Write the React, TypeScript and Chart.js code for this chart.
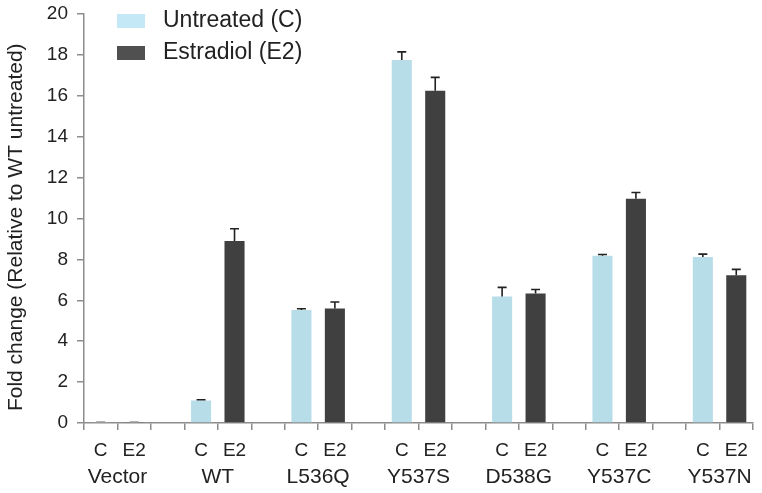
import React, { useEffect, useRef } from "react";
import { Chart, registerables } from "chart.js";

Chart.register(...registerables);

const groups = ["Vector", "WT", "L536Q", "Y537S", "D538G", "Y537C", "Y537N"];
const conditions = ["C", "E2"];
const untreated = [0.03, 1.1, 5.52, 17.75, 6.18, 8.18, 8.12];
const untreatedErr = [0.02, 0.04, 0.07, 0.4, 0.45, 0.06, 0.14];
const estradiol = [0.03, 8.9, 5.6, 16.25, 6.33, 10.97, 7.23];
const estradiolErr = [0.02, 0.6, 0.32, 0.65, 0.2, 0.3, 0.28];
const legendLabels = ["Untreated (C)", "Estradiol (E2)"];
const yTitle = "Fold change (Relative to WT untreated)";

const FONT = "'Liberation Sans', Arial, Helvetica, sans-serif";
const LIGHT = "#b6dde8";
const DARK = "#404040";
const AXIS = "#8c8c8c";
const TEXT = "#222222";

// build the slot layout: C, E2, gap, C, E2, gap ... C, E2
const slotLabels: string[] = [];
const slotC: (number | null)[] = [];
const slotE: (number | null)[] = [];
const slotCErr: (number | null)[] = [];
const slotEErr: (number | null)[] = [];
const groupCenters: number[] = [];
groups.forEach((g, i) => {
  const base = slotLabels.length;
  groupCenters.push(base + 0.5);
  slotLabels.push(conditions[0]);
  slotC.push(untreated[i]);
  slotE.push(null);
  slotCErr.push(untreatedErr[i]);
  slotEErr.push(null);
  slotLabels.push(conditions[1]);
  slotC.push(null);
  slotE.push(estradiol[i]);
  slotCErr.push(null);
  slotEErr.push(estradiolErr[i]);
  if (i < groups.length - 1) {
    slotLabels.push("");
    slotC.push(null);
    slotE.push(null);
    slotCErr.push(null);
    slotEErr.push(null);
  }
});

const errorBarPlugin = {
  id: "errorBars",
  afterDatasetsDraw(chart: any) {
    const ctx = chart.ctx;
    const y = chart.scales.y;
    const errs = [slotCErr, slotEErr];
    ctx.save();
    chart.data.datasets.forEach((ds: any, di: number) => {
      const meta = chart.getDatasetMeta(di);
      meta.data.forEach((bar: any, i: number) => {
        const v = ds.data[i];
        const e = errs[di][i];
        if (v == null || e == null) return;
        const base = y.getPixelForValue(v);
        const top = y.getPixelForValue(v + e);
        ctx.strokeStyle = v < 0.5 ? "#999999" : "#222222";
        ctx.lineWidth = 1.6;
        ctx.beginPath();
        ctx.moveTo(bar.x, base);
        ctx.lineTo(bar.x, top);
        ctx.moveTo(bar.x - 4.5, top);
        ctx.lineTo(bar.x + 4.5, top);
        ctx.stroke();
      });
    });
    ctx.restore();
  },
};

const legendPlugin = {
  id: "customLegend",
  afterDraw(chart: any) {
    const ctx = chart.ctx;
    const colors = ["#c4e8f6", "#505050"];
    const x0 = chart.chartArea.left + 33;
    const rowY = [21, 53];
    ctx.save();
    ctx.font = `23px ${FONT}`;
    ctx.textBaseline = "middle";
    ctx.textAlign = "left";
    legendLabels.forEach((label, i) => {
      ctx.fillStyle = colors[i];
      ctx.fillRect(x0, rowY[i] - 7, 28, 14);
      ctx.fillStyle = TEXT;
      ctx.fillText(label, x0 + 46, rowY[i]);
    });
    ctx.restore();
  },
};

export default function App() {
  const ref = useRef<HTMLCanvasElement | null>(null);

  useEffect(() => {
    document.body.style.margin = "0";
    if (!ref.current) return;
    Chart.defaults.font.family = FONT;
    const chart = new Chart(ref.current, {
      type: "bar",
      data: {
        labels: slotLabels,
        datasets: [
          {
            label: legendLabels[0],
            data: slotC,
            backgroundColor: LIGHT,
            xAxisID: "x",
            yAxisID: "y",
            grouped: false,
            barPercentage: 0.6,
            categoryPercentage: 1,
          },
          {
            label: legendLabels[1],
            data: slotE,
            backgroundColor: DARK,
            xAxisID: "x",
            yAxisID: "y",
            grouped: false,
            barPercentage: 0.6,
            categoryPercentage: 1,
          },
        ],
      },
      options: {
        responsive: false,
        animation: false,
        layout: { padding: { top: 14, right: 9, left: 0, bottom: 0 } },
        plugins: {
          legend: { display: false },
          tooltip: { enabled: false },
        },
        scales: {
          x: {
            type: "category",
            position: "bottom",
            grid: {
              drawOnChartArea: false,
              drawTicks: true,
              tickLength: 7,
              offset: true,
              color: AXIS,
              lineWidth: 1.5,
            },
            border: { color: AXIS, width: 1.5 },
            ticks: {
              autoSkip: false,
              maxRotation: 0,
              padding: 9,
              color: TEXT,
              font: { size: 19 },
            },
            afterFit: (s: any) => {
              s.height = 36;
              s.paddingLeft = 0;
              s.paddingRight = 0;
            },
          },
          x2: {
            type: "linear",
            position: "bottom",
            min: -0.5,
            max: 19.5,
            offset: false,
            grid: { display: false, drawTicks: false },
            border: { display: false },
            afterBuildTicks: (s: any) => {
              s.ticks = groupCenters.map((v) => ({ value: v }));
            },
            ticks: {
              autoSkip: false,
              maxRotation: 0,
              padding: 6,
              color: TEXT,
              font: { size: 21 },
              callback: (v: any) => {
                const i = groupCenters.indexOf(Number(v));
                return i >= 0 ? groups[i] : "";
              },
            },
            afterFit: (s: any) => {
              s.height = 34;
              s.paddingLeft = 0;
              s.paddingRight = 0;
            },
          },
          y: {
            type: "linear",
            position: "left",
            min: 0,
            max: 20,
            grid: {
              drawOnChartArea: false,
              drawTicks: true,
              tickLength: 7,
              color: AXIS,
              lineWidth: 1.5,
            },
            border: { color: AXIS, width: 1.5 },
            ticks: {
              stepSize: 2,
              padding: 9,
              color: TEXT,
              font: { size: 19 },
            },
            title: {
              display: true,
              text: yTitle + "   ",
              color: TEXT,
              font: { size: 21 },
              padding: { top: 4, bottom: 0 },
            },
            afterFit: (s: any) => {
              s.width = 84;
              s.paddingTop = 0;
              s.paddingBottom = 0;
            },
          },
        },
      },
      plugins: [errorBarPlugin, legendPlugin],
    });
    return () => chart.destroy();
  }, []);

  return (
    <div style={{ width: 762, height: 493 }}>
      <canvas ref={ref} width={762} height={493} />
    </div>
  );
}
